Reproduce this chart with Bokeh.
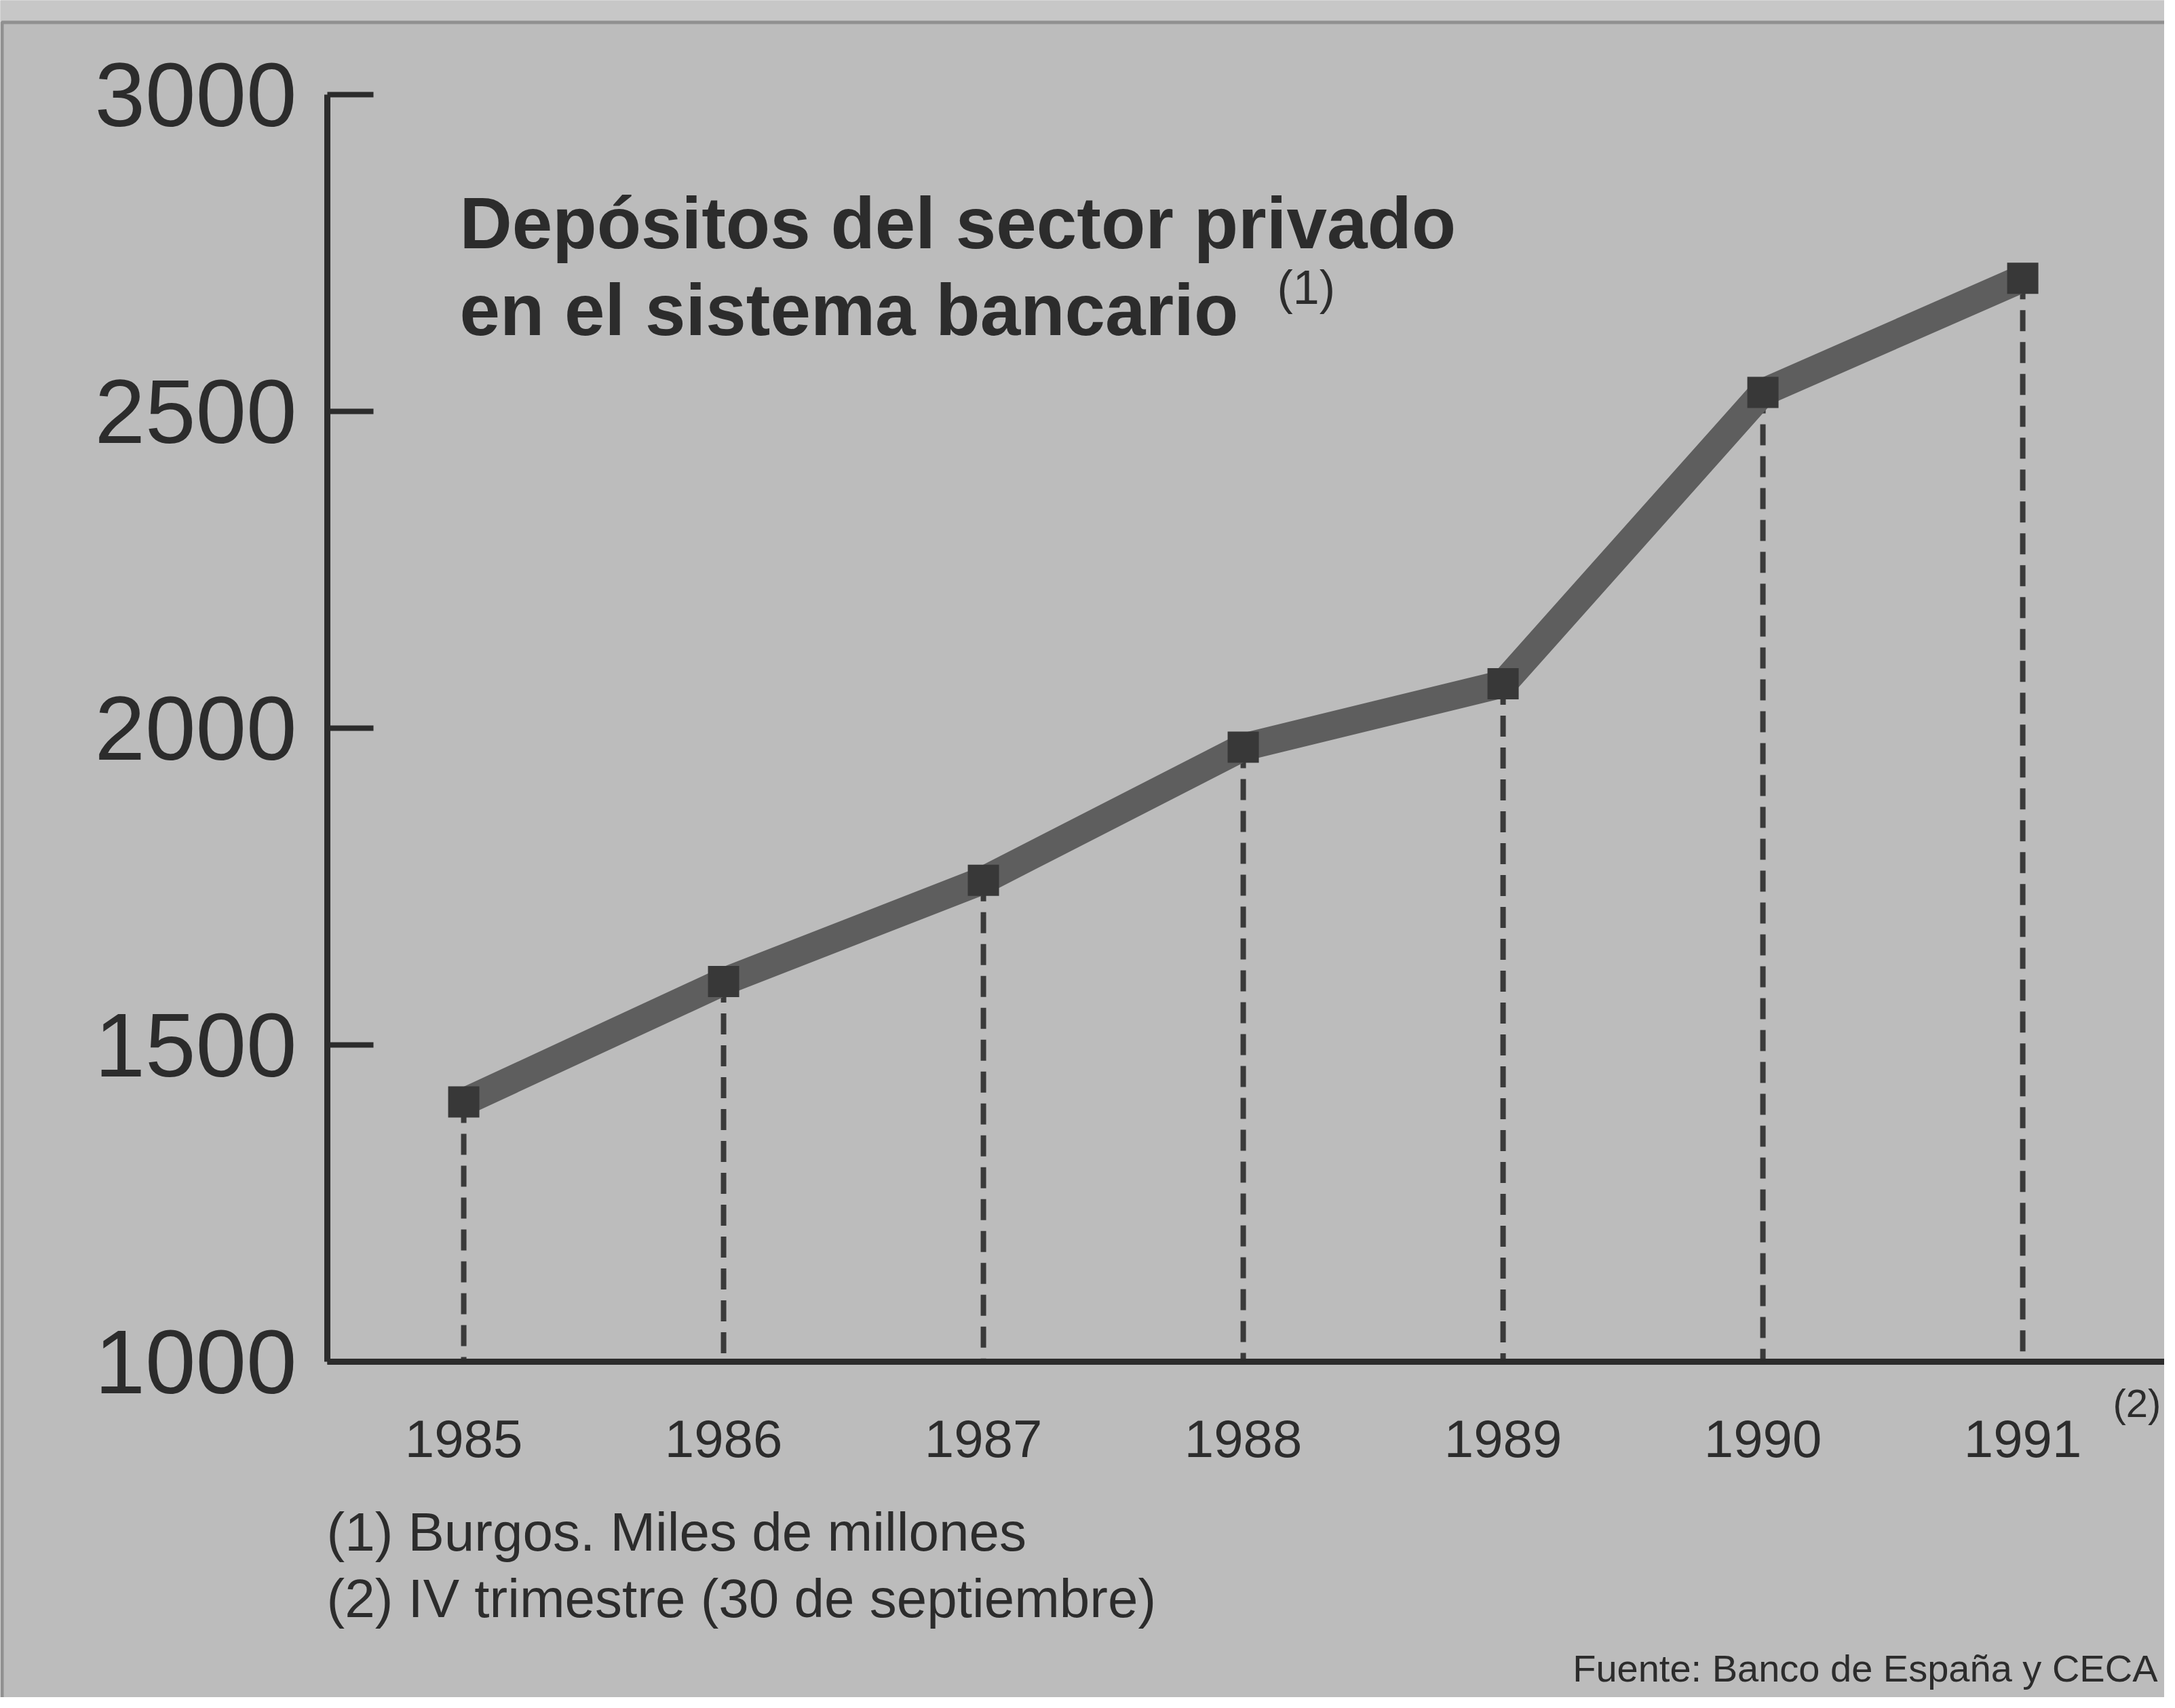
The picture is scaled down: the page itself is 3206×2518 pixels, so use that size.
from bokeh.plotting import figure
from bokeh.models import Range1d, FixedTicker, Label, BoxAnnotation, ColumnDataSource
from bokeh.embed import file_html
from bokeh.resources import INLINE

# ---- data ----
years = [1985, 1986, 1987, 1988, 1989, 1990, 1991]
depositos = [1410, 1600, 1760, 1970, 2070, 2530, 2710]
y_ticks = [1000, 1500, 2000, 2500, 3000]
title_lines = ["Depósitos del sector privado", "en el sistema bancario"]
title_note = "(1)"
last_year_note = "(2)"
footnotes = ["(1) Burgos. Miles de millones", "(2) IV trimestre (30 de septiembre)"]
source = "Fuente: Banco de España y CECA"

# ---- layout geometry (canvas pixels) ----
W, H = 3190, 2502
AX_LEFT, AX_TOP, AX_BOTTOM = 482, 139, 2007   # where the axes sit on the canvas
XPX = 383.0                                     # pixels per year
X_AXIS = 1984.475                               # data x of the vertical axis
YPX = (AX_BOTTOM - AX_TOP) / 2000.0             # pixels per unit

CX0 = X_AXIS - AX_LEFT / XPX
CX1 = CX0 + W / XPX
CY0 = 1000 - (H - AX_BOTTOM) / YPX
CY1 = 1000 + AX_BOTTOM / YPX

def dx(px):
    return CX0 + px / XPX

def dy(py):
    return CY1 - py / YPX

BG = "#bcbcbc"
INK = "#2c2c2c"
FONT = "Liberation Sans"
K = 0.24  # baseline correction (fraction of font size)

p = figure(width=W, height=H, output_backend="svg", toolbar_location=None,
           x_range=Range1d(CX0, CX1), y_range=Range1d(CY0, CY1),
           min_border=0, title=None)
p.min_border_left = 0
p.min_border_right = 0
p.min_border_top = 0
p.min_border_bottom = 0
p.background_fill_color = BG
p.border_fill_color = BG
p.outline_line_color = None
p.grid.visible = False

# axes, fixed inside the canvas
xa = p.xaxis[0]
xa.fixed_location = 1000
xa.bounds = (X_AXIS, CX1)
xa.ticker = FixedTicker(ticks=years)
xa.axis_line_color = INK
xa.axis_line_width = 9
xa.major_tick_line_color = None
xa.minor_tick_line_color = None
xa.major_label_text_font = FONT
xa.major_label_text_font_size = "78px"
xa.major_label_text_color = INK
xa.major_label_standoff = 80

ya = p.yaxis[0]
ya.fixed_location = X_AXIS
ya.bounds = (1000, 3000)
ya.ticker = FixedTicker(ticks=y_ticks)
ya.axis_line_color = INK
ya.axis_line_width = 9
ya.major_tick_in = 68
ya.major_tick_out = 0
ya.major_tick_line_color = INK
ya.major_tick_line_width = 8
ya.minor_tick_line_color = None
ya.major_label_text_font = FONT
ya.major_label_text_font_size = "134px"
ya.major_label_text_color = INK
ya.major_label_standoff = 45

src = ColumnDataSource(dict(x=years, y=depositos, base=[y_ticks[0]] * len(years)))

# dashed drop lines
p.segment(x0="x", y0="y", x1="x", y1="base", source=src,
          line_color="#3a3a3a", line_width=8, line_dash="31 16")
# thick series line
p.line(x="x", y="y", source=src, line_color="#5e5e5e", line_width=41,
       line_join="miter")
# square markers
p.scatter(x="x", y="y", source=src, marker="square", size=46,
          fill_color="#383838", line_color=None)


def add_text(px, py, text, size, bold=False, align="left"):
    p.add_layout(Label(x=dx(px), y=dy(py - K * size), text=text,
                       text_font=FONT, text_font_size=f"{size}px",
                       text_font_style="bold" if bold else "normal",
                       text_color=INK, text_align=align,
                       text_baseline="alphabetic"))


# title
add_text(677, 354, title_lines[0], 107, bold=True)
add_text(677, 482, title_lines[1], 107, bold=True)
add_text(1882, 440, title_note, 70)

# (2) next to 1991
add_text(3114, 2082, last_year_note, 58)

# footnotes and source
add_text(481, 2277, footnotes[0], 80)
add_text(481, 2375, footnotes[1], 80)
add_text(3180, 2472, source, 56, align="right")

# outer frame of the graphic (top strip + border)
p.add_layout(BoxAnnotation(left=dx(0), right=dx(W), top=dy(0), bottom=dy(30),
                           fill_color="#c7c7c7", fill_alpha=1.0,
                           line_color=None, level="underlay"))
p.add_layout(BoxAnnotation(left=dx(2.5), right=dx(W + 20), top=dy(32.5), bottom=dy(H + 20),
                           fill_alpha=0, line_color=INK, line_width=5,
                           level="overlay"))

open("out.html", "w").write(file_html(p, INLINE))
